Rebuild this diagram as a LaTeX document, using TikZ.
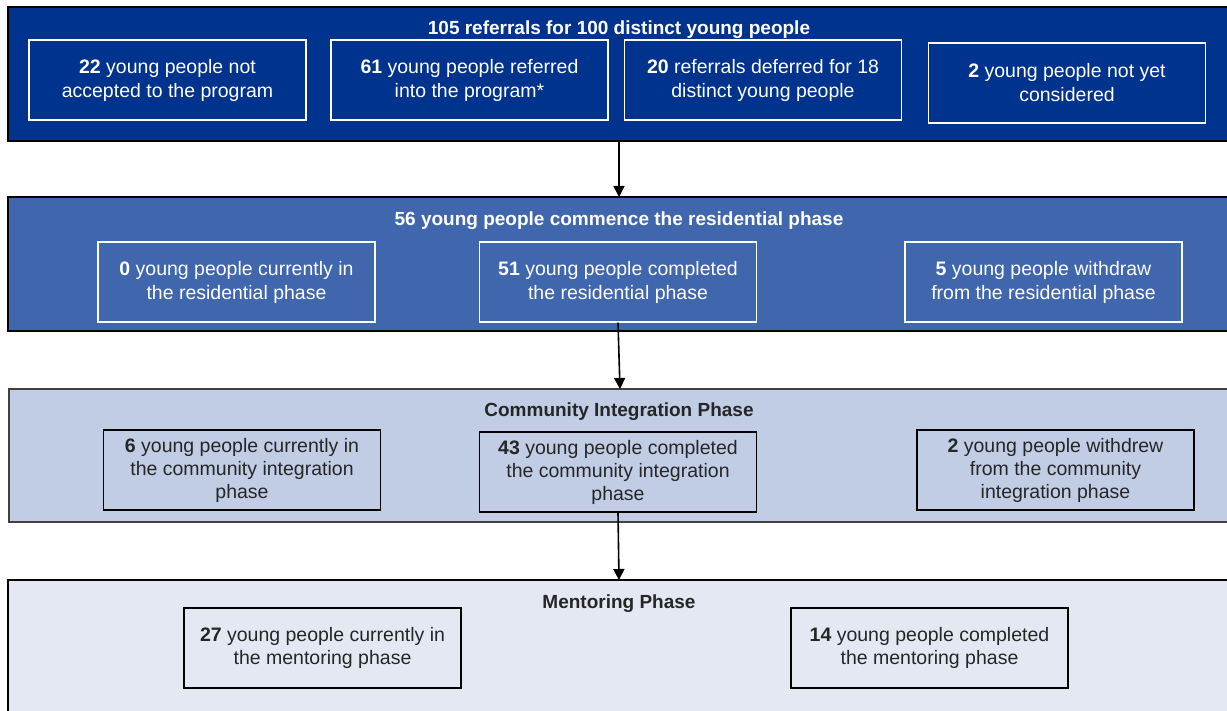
\documentclass[tikz,border=0pt]{standalone}
\usepackage{fontspec}
\setmainfont{Liberation Sans}
\usetikzlibrary{arrows.meta}
\definecolor{navy}{HTML}{00338D}
\definecolor{midblue}{HTML}{4066AE}
\definecolor{lightblue}{HTML}{C1CCE5}
\definecolor{paleblue}{HTML}{E4E8F2}
\definecolor{darktext}{HTML}{262626}
\tikzset{
  band/.style={draw=black, line width=1.6pt, minimum width=1220pt, inner sep=0pt},
  wbox/.style={draw=white, line width=1.3pt, minimum width=277pt, minimum height=80pt, text=white, align=center, inner sep=0pt, font=\fontsize{19.5}{24}\selectfont},
  kbox/.style={draw=black, line width=1.3pt, minimum width=277pt, minimum height=80pt, text=darktext, align=center, inner sep=0pt, font=\fontsize{19.5}{23}\selectfont},
  btitle/.style={font=\fontsize{19}{22}\selectfont\bfseries, inner sep=0pt},
  flow/.style={draw=black, line width=1.6pt, -{Triangle[length=11pt,width=11pt]}}
}
\begin{document}
\begin{tikzpicture}[x=1pt,y=-1pt]
\clip (0,0) rectangle (1227,711);
\fill[white] (0,0) rectangle (1227,711);
% bands
\node[band, fill=navy, minimum height=134pt] (B1) at (618,74) {};
\node[band, fill=midblue, minimum height=134pt] (B2) at (618,264) {};
\node[band, draw=black!75, fill=lightblue, minimum height=133pt] (B3) at (619,455.5) {};
\node[band, fill=paleblue, minimum height=140pt] (B4) at (618,650) {};
% titles
\node[btitle, text=white] (T1) at (619,29.5) {105 referrals for 100 distinct young people};
\node[btitle, text=white] (T2) at (619,220.5) {56 young people commence the residential phase};
\node[btitle, text=darktext] (T3) at (619,411.5) {Community Integration Phase};
\node[btitle, text=darktext] (T4) at (619,603.5) {Mentoring Phase};
% top band boxes
\node[wbox] (a1) at (167.5,80) {\textbf{22} young people not\\accepted to the program};
\node[wbox] (a2) at (469.5,80) {\textbf{61} young people referred\\into the program*};
\node[wbox] (a3) at (763,80) {\textbf{20} referrals deferred for 18\\distinct young people};
\node[wbox] (a4) at (1067,83) {\textbf{2} young people not yet\\considered};
% residential boxes
\node[wbox] (b1) at (236.5,282) {\textbf{0} young people currently in\\the residential phase};
\node[wbox] (b2) at (618,282) {\textbf{51} young people completed\\the residential phase};
\node[wbox] (b3) at (1043.5,282) {\textbf{5} young people withdraw\\from the residential phase};
% community boxes
\node[kbox] (c1) at (242,470) {\textbf{6} young people currently in\\the community integration\\phase};
\node[kbox] (c2) at (618,472) {\textbf{43} young people completed\\the community integration\\phase};
\node[kbox] (c3) at (1055.5,470) {\textbf{2} young people withdrew\\from the community\\integration phase};
% mentoring boxes
\node[kbox] (d1) at (322.5,648) {\textbf{27} young people currently in\\the mentoring phase};
\node[kbox] (d2) at (929.5,648) {\textbf{14} young people completed\\the mentoring phase};
% connectors
\coordinate (s1) at (619,141);
\coordinate (e1) at (619,197);
\coordinate (e2) at (620,389);
\coordinate (e3) at (619,580);
\draw[flow] (s1) -- (e1);
\draw[flow] (b2.south) -- (e2);
\draw[flow] (c2.south) -- (e3);
\end{tikzpicture}
\end{document}
